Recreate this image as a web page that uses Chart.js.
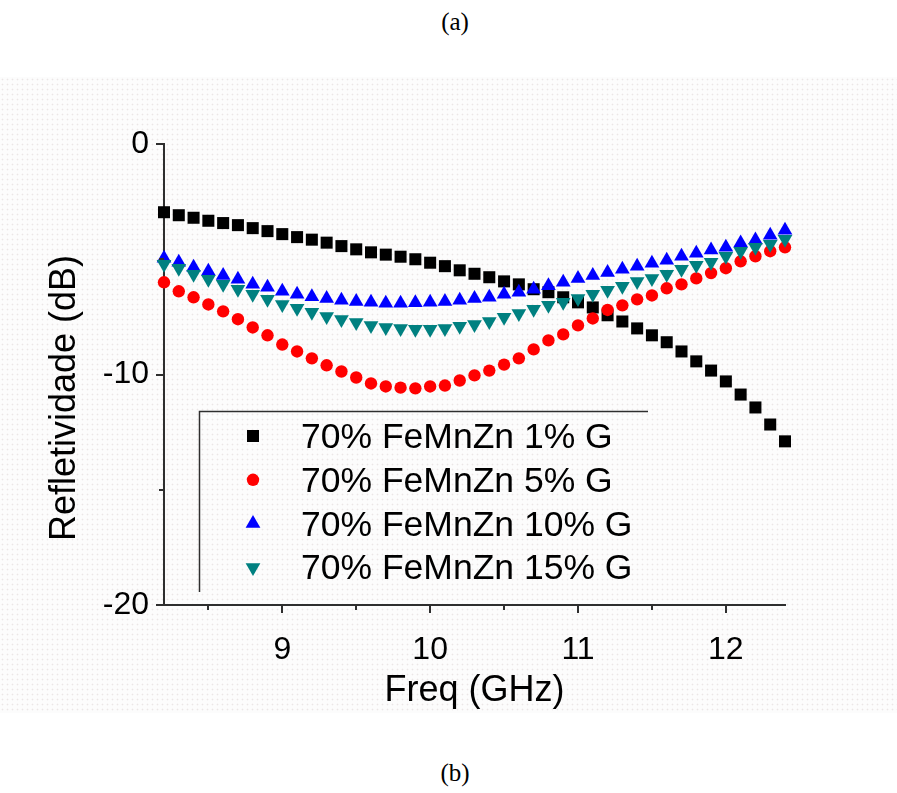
<!DOCTYPE html>
<html>
<head>
<meta charset="utf-8">
<script src="https://cdn.jsdelivr.net/npm/chart.js@4.4.1/dist/chart.umd.min.js"></script>
<style>
  body { margin: 0; background: #fff; width: 897px; height: 793px; position: relative; overflow: hidden; }
  #bg { position: absolute; left: 0; top: 77px; width: 897px; height: 636px;
        background-color: #fcfcfc;
        background-image: radial-gradient(#ebe6e6 0.8px, transparent 1.1px);
        background-size: 5px 5px; }
  .cap { position: absolute; left: 0; width: 910px; text-align: center;
         font-family: "Liberation Serif", "Times New Roman", serif; font-size: 25px; line-height: 28px; }
  canvas { position: absolute; left: 0; top: 0; }
</style>
</head>
<body>
<div id="bg"></div>
<div class="cap" style="top:8px">(a)</div>
<div class="cap" style="top:759px">(b)</div>
<canvas id="chart" width="897" height="793"></canvas>
<script>
// frequencies (GHz)
const freq = [8.2, 8.3, 8.4, 8.5, 8.6, 8.7, 8.8, 8.9, 9.0, 9.1, 9.2, 9.3, 9.4, 9.5, 9.6, 9.7, 9.8, 9.9,
  10.0, 10.1, 10.2, 10.3, 10.4, 10.5, 10.6, 10.7, 10.8, 10.9, 11.0, 11.1, 11.2, 11.3, 11.4, 11.5,
  11.6, 11.7, 11.8, 11.9, 12.0, 12.1, 12.2, 12.3, 12.4];

// reflectivity (dB) per sample
const g1 = [-2.96, -3.09, -3.2, -3.33, -3.43, -3.52, -3.65, -3.78, -3.91, -4.04, -4.15, -4.28, -4.43, -4.57,
  -4.7, -4.8, -4.89, -5.0, -5.15, -5.3, -5.48, -5.63, -5.78, -5.96, -6.09, -6.3, -6.43, -6.65, -6.87,
  -7.09, -7.43, -7.7, -8.0, -8.3, -8.6, -9.0, -9.43, -9.83, -10.3, -10.87, -11.43, -12.17, -12.9];
const g5 = [-6.0, -6.39, -6.65, -6.96, -7.26, -7.6, -7.96, -8.3, -8.7, -9.0, -9.3, -9.6, -9.87, -10.13,
  -10.39, -10.52, -10.57, -10.6, -10.52, -10.48, -10.26, -10.04, -9.83, -9.57, -9.3, -8.91, -8.52, -8.26,
  -7.87, -7.57, -7.2, -7.0, -6.74, -6.57, -6.26, -6.09, -5.83, -5.6, -5.39, -5.09, -4.87, -4.65, -4.48];
const g10 = [-4.96, -5.13, -5.35, -5.52, -5.7, -5.87, -6.09, -6.22, -6.39, -6.52, -6.63, -6.7, -6.78, -6.83,
  -6.87, -6.91, -6.91, -6.89, -6.87, -6.83, -6.78, -6.7, -6.65, -6.52, -6.43, -6.3, -6.15, -6.0, -5.83,
  -5.7, -5.57, -5.43, -5.3, -5.17, -5.04, -4.87, -4.74, -4.6, -4.48, -4.3, -4.17, -3.96, -3.74];
const g15 = [-5.22, -5.39, -5.65, -5.87, -6.09, -6.3, -6.52, -6.74, -6.96, -7.13, -7.3, -7.48, -7.61, -7.74,
  -7.87, -7.96, -8.0, -8.04, -8.04, -8.0, -7.91, -7.83, -7.7, -7.52, -7.35, -7.17, -7.0, -6.87, -6.7,
  -6.52, -6.35, -6.17, -5.96, -5.83, -5.65, -5.43, -5.26, -5.13, -4.87, -4.65, -4.48, -4.35, -4.13];

const labels = ["70% FeMnZn 1% G", "70% FeMnZn 5% G", "70% FeMnZn 10% G", "70% FeMnZn 15% G"];
const xTicks = [9, 10, 11, 12];
const xMinor = [8.5, 9.5, 10.5, 11.5];
const yTicks = [0, -10, -20];
const yMinor = [-5, -15];

const FONT = "'Liberation Sans', Arial, sans-serif";
const AXIS = "#2e2e2e";

const styles = [
  { color: "#000000", pointStyle: "rect", radius: 8.5, rotation: 0 },
  { color: "#ff0000", pointStyle: "circle", radius: 6.2, rotation: 0 },
  { color: "#0000ff", pointStyle: "triangle", radius: 8.5, rotation: 0 },
  { color: "#008080", pointStyle: "triangle", radius: 8.5, rotation: 180 }
];

const series = [g1, g5, g10, g15];
const datasets = series.map((vals, i) => ({
  label: labels[i],
  data: freq.map((f, j) => ({ x: f, y: vals[j] })),
  showLine: false,
  pointStyle: styles[i].pointStyle,
  pointRadius: styles[i].radius,
  pointHoverRadius: styles[i].radius,
  pointRotation: styles[i].rotation,
  pointBackgroundColor: styles[i].color,
  pointBorderColor: styles[i].color,
  pointBorderWidth: 0,
  clip: false,
  order: 4 - i
}));

function marker(ctx, st, x, y) {
  ctx.fillStyle = st.color;
  if (Chart.helpers && Chart.helpers.drawPoint) {
    Chart.helpers.drawPoint(ctx, { pointStyle: st.pointStyle, radius: st.radius, rotation: st.rotation, borderWidth: 0 }, x, y);
  }
}

const extras = {
  id: "extras",
  afterDraw(chart) {
    const { ctx, scales: { x, y } } = chart;
    ctx.save();
    ctx.strokeStyle = AXIS;
    ctx.lineWidth = 2;
    // minor ticks
    ctx.beginPath();
    xMinor.forEach(v => {
      const px = Math.round(x.getPixelForValue(v));
      ctx.moveTo(px, x.top); ctx.lineTo(px, x.top + 5);
    });
    yMinor.forEach(v => {
      const py = Math.round(y.getPixelForValue(v));
      ctx.moveTo(y.right, py); ctx.lineTo(y.right - 5, py);
    });
    ctx.stroke();

    // axis titles
    ctx.fillStyle = "#000";
    ctx.font = "36px " + FONT;
    ctx.textAlign = "center";
    ctx.textBaseline = "middle";
    ctx.fillText("Freq (GHz)", (x.left + x.right) / 2, 691);
    ctx.save();
    ctx.translate(65, 398);
    ctx.rotate(-Math.PI / 2);
    ctx.fillText("Refletividade (dB)", 0, 0);
    ctx.restore();

    // legend frame (top and left only)
    ctx.lineWidth = 1.5;
    ctx.beginPath();
    ctx.moveTo(199.5, 592); ctx.lineTo(199.5, 411.5); ctx.lineTo(648, 411.5);
    ctx.stroke();

    ctx.font = "35.5px " + FONT;
    ctx.textAlign = "left";
    ctx.textBaseline = "alphabetic";
    labels.forEach((t, i) => {
      const base = 448 + i * 43.8;
      marker(ctx, styles[i], 253, base - 12);
      ctx.fillStyle = "#000";
      ctx.fillText(t, 301, base);
    });
    ctx.restore();
  }
};

new Chart(document.getElementById("chart"), {
  type: "scatter",
  data: { datasets },
  options: {
    responsive: false,
    animation: false,
    layout: { padding: { left: 0, top: 144, right: 112, bottom: 0 } },
    plugins: { legend: { display: false }, tooltip: { enabled: false } },
    scales: {
      x: {
        type: "linear", min: 8.2, max: 12.4,
        afterFit: s => { s.height = 188; },
        afterBuildTicks: s => { s.ticks = xTicks.map(v => ({ value: v })); },
        border: { display: true, color: AXIS, width: 2 },
        grid: { display: true, drawOnChartArea: false, drawTicks: true, tickLength: 8, color: AXIS, lineWidth: 2 },
        ticks: { color: "#000", font: { family: FONT, size: 32 }, padding: 18, maxRotation: 0 }
      },
      y: {
        type: "linear", min: -20, max: 0,
        afterFit: s => { s.width = 164; },
        afterBuildTicks: s => { s.ticks = yTicks.map(v => ({ value: v })); },
        border: { display: true, color: AXIS, width: 2 },
        grid: { display: true, drawOnChartArea: false, drawTicks: true, tickLength: 8, color: AXIS, lineWidth: 2 },
        ticks: { color: "#000", font: { family: FONT, size: 32 }, padding: 7 }
      }
    }
  },
  plugins: [extras]
});
</script>
</body>
</html>
